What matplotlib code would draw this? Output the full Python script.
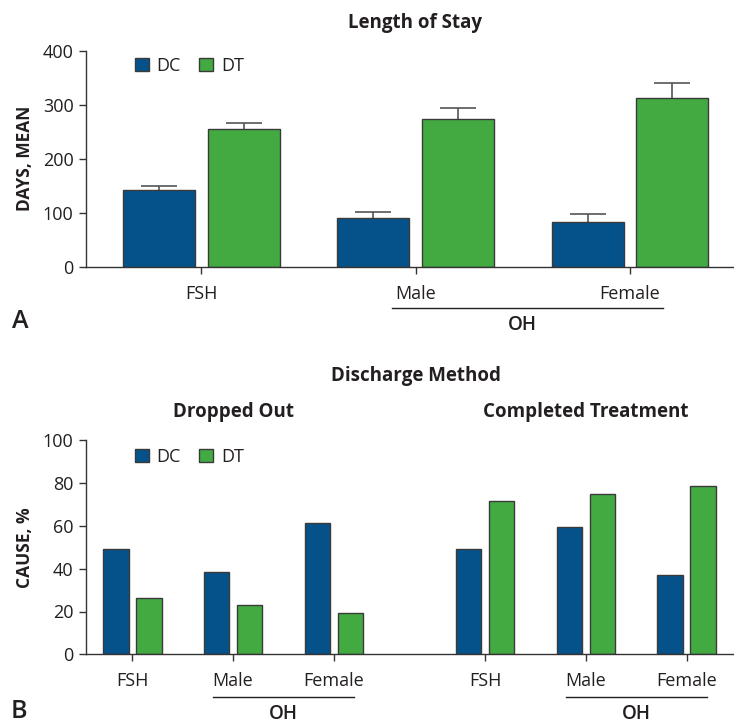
import numpy as np
import matplotlib
matplotlib.use("Agg")
import matplotlib.pyplot as plt

plt.rcParams["font.family"] = ["Open Sans", "DejaVu Sans"]
plt.rcParams["text.color"] = "#231f20"
plt.rcParams["axes.labelcolor"] = "#231f20"
plt.rcParams["xtick.color"] = "#333333"
plt.rcParams["ytick.color"] = "#333333"
plt.rcParams["xtick.labelcolor"] = "#231f20"
plt.rcParams["ytick.labelcolor"] = "#231f20"

DC_COL = "#05528a"
DT_COL = "#43aa42"
EDGE = "#3a3a3a"

# Panel A: length of stay (days, mean) with upper error bars
stay_groups = ["FSH", "Male", "Female"]
stay_dc = [143, 90, 82]
stay_dt = [255, 273, 312]
stay_dc_err = [7, 12, 15]
stay_dt_err = [12, 21, 29]

# Panel B: discharge method (%)
cause_groups = ["FSH", "Male", "Female", "FSH", "Male", "Female"]
cause_dc = [49, 38.5, 61.5, 49, 59.5, 37]
cause_dt = [26.5, 23, 19.5, 71.5, 75, 78.5]

W, H = 734, 723


def fx(px):
    return px / W


def fy(py):
    return 1 - py / H


def style_axes(ax):
    for s in ["top", "right"]:
        ax.spines[s].set_visible(False)
    for s in ["left", "bottom"]:
        ax.spines[s].set_color("#333333")
        ax.spines[s].set_linewidth(1.0)
    ax.tick_params(axis="y", length=5, width=1, pad=4, labelsize=13)
    ax.tick_params(axis="x", length=5, width=1, pad=8, labelsize=13)


def add_legend(ax, y_px):
    ax.legend(loc="center left", bbox_to_anchor=(fx(135), fy(y_px)),
              bbox_transform=ax.figure.transFigure, ncol=2, frameon=False,
              borderpad=0, borderaxespad=0, handlelength=0.75, handleheight=0.75,
              handletextpad=0.45, columnspacing=1.0, fontsize=13)


def upper_errorbar(ax, x, vals, errs):
    eb = ax.errorbar(x, vals, yerr=[np.zeros(len(vals)), errs], fmt="none",
                     ecolor="#555555", elinewidth=1.2, capsize=13, capthick=1.2,
                     zorder=1.5)
    # hide the cap sitting on the bar top
    for cap in eb[1]:
        if np.allclose(cap.get_ydata(), vals):
            cap.set_visible(False)


def group_line(ax, x0, x1, y_line, xc, y_text):
    tr = ax.get_xaxis_transform()
    ax.plot([x0, x1], [y_line, y_line], color="#231f20", lw=1.0,
            transform=tr, clip_on=False)
    ax.text(xc, y_text, "OH", transform=tr, ha="center", va="center",
            fontsize=13.5, fontweight="semibold")


fig = plt.figure(figsize=(W / 100, H / 100), dpi=100)

# ---- Panel A ----
ax1 = fig.add_axes([fx(86), fy(266.7), fx(734 - 86), (266.7 - 51) / H])
pos = np.arange(len(stay_groups))
bw, off = 0.336, 0.197
ax1.bar(pos - off, stay_dc, bw, color=DC_COL, edgecolor=EDGE, lw=1, label="DC", zorder=2)
ax1.bar(pos + off, stay_dt, bw, color=DT_COL, edgecolor=EDGE, lw=1, label="DT", zorder=2)
upper_errorbar(ax1, pos - off, stay_dc, stay_dc_err)
upper_errorbar(ax1, pos + off, stay_dt, stay_dt_err)
ax1.set_xlim(-0.539, 2.486)
ax1.set_ylim(0, 400)
ax1.set_yticks([0, 100, 200, 300, 400])
ax1.set_xticks(pos)
ax1.set_xticklabels(stay_groups)
style_axes(ax1)
ax1.set_ylabel("DAYS, MEAN", fontsize=12.5, fontweight="bold", labelpad=6)
add_legend(ax1, 66)
group_line(ax1, 0.889, 2.155, -0.193, 1.5, -0.27)

fig.text(fx(415), fy(22.7), "Length of Stay", ha="center", va="center",
         fontsize=13.5, fontweight="bold")
fig.text(fx(20), fy(322), "A", ha="center", va="center", fontsize=18,
         fontweight="semibold")

# ---- Panel B ----
ax2 = fig.add_axes([fx(86), fy(654.3), fx(734 - 86), (654.3 - 440.3) / H])
pos2 = np.array([0, 1, 2, 3.5, 4.5, 5.5])
bw2, off2 = 0.254, 0.164
ax2.bar(pos2 - off2, cause_dc, bw2, color=DC_COL, edgecolor=EDGE, lw=1, label="DC", zorder=2)
ax2.bar(pos2 + off2, cause_dt, bw2, color=DT_COL, edgecolor=EDGE, lw=1, label="DT", zorder=2)
ax2.set_xlim(-0.459, 5.969)
ax2.set_ylim(0, 100)
ax2.set_yticks([0, 20, 40, 60, 80, 100])
ax2.set_xticks(pos2)
ax2.set_xticklabels(cause_groups)
style_axes(ax2)
ax2.set_ylabel("CAUSE, %", fontsize=12.5, fontweight="bold", labelpad=6)
add_legend(ax2, 456.7)
group_line(ax2, 0.80, 2.20, -0.2, 1.5, -0.279)
group_line(ax2, 4.30, 5.70, -0.2, 5.0, -0.279)

tr2 = ax2.get_xaxis_transform()
ax2.text(1, 1.134, "Dropped Out", transform=tr2, ha="center", va="center",
         fontsize=13.5, fontweight="bold")
ax2.text(4.5, 1.134, "Completed Treatment", transform=tr2, ha="center", va="center",
         fontsize=13.5, fontweight="bold")
fig.text(fx(416), fy(376), "Discharge Method", ha="center", va="center",
         fontsize=13.5, fontweight="bold")
fig.text(fx(19), fy(712), "B", ha="center", va="center", fontsize=18,
         fontweight="semibold")

fig.savefig("out.png", dpi=100)
